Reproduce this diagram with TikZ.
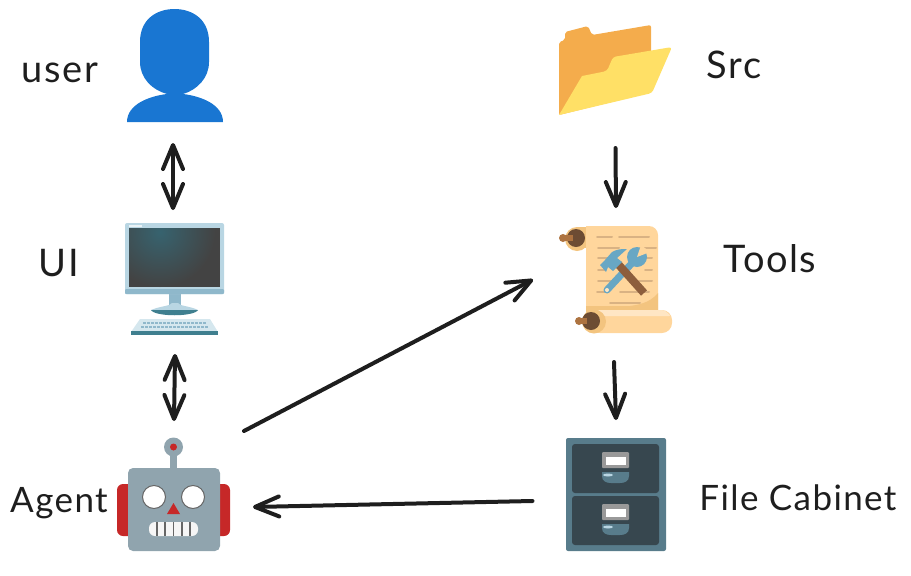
\documentclass[tikz,border=0pt]{standalone}
\usepackage{fontspec}
\setmainfont{Lato}
\usetikzlibrary{positioning,arrows.meta,calc}
\definecolor{inkdark}{HTML}{1E1E1E}
\definecolor{userblue}{HTML}{1976D2}
\definecolor{frameblue}{HTML}{B9D6E3}
\definecolor{framedark}{HTML}{8FB8CB}
\definecolor{screengray}{HTML}{434343}
\definecolor{screenteal}{HTML}{37636F}
\definecolor{edgeteal}{HTML}{3F7F8F}
\definecolor{botgray}{HTML}{90A4AE}
\definecolor{botred}{HTML}{C62828}
\definecolor{folderback}{HTML}{F4AC4C}
\definecolor{folderfront}{HTML}{FFE066}
\definecolor{paper}{HTML}{FFD69C}
\definecolor{paperdark}{HTML}{F3C47F}
\definecolor{paperlight}{HTML}{FFE6C4}
\definecolor{paperline}{HTML}{D9B283}
\definecolor{knobdark}{HTML}{6D4C33}
\definecolor{knoblight}{HTML}{AD7340}
\definecolor{toolblue}{HTML}{68A7C4}
\definecolor{toolbrown}{HTML}{8D5E3C}
\definecolor{cabinetblue}{HTML}{587C8B}
\definecolor{drawerdark}{HTML}{37474F}
\begin{document}
\begin{tikzpicture}[
      x=1pt,
      y=-1pt,
      >={Straight Barb[length=24pt,width=20pt,round]}
    ]

    \tikzstyle{icon} = [inner sep=0pt, outer sep=0pt, minimum width=100pt, minimum height=113pt]
    \tikzstyle{label} = [text=inkdark, font=\fontsize{38}{38}\selectfont\addfontfeatures{LetterSpace=4}]
    \tikzstyle{labelsmall} = [text=inkdark, font=\fontsize{35}{35}\selectfont\addfontfeatures{LetterSpace=4}]
    \tikzstyle{arrow} = [draw=inkdark, line width=4pt, line cap=round]

    \useasboundingbox (0,0) rectangle (911,576);

    \node [icon] (user) at (175,65.5) {};
    \node [icon] (ui) [below=101pt of user] {};
    \node [icon, minimum width=114pt] (agent) [below=102pt of ui] {};
    \node [icon, minimum width=113pt, minimum height=90pt] (src) at (615.5,70) {};
    \node [icon, minimum width=113pt, minimum height=109pt] (tools) [below=110pt of src] {};
    \node [icon] (cabinet) [below=104pt of tools] {};

    \node [label] (userlabel) at (60,73) {user};
    \node [label] (uilabel) at (59,263) {UI};
    \node [labelsmall] (agentlabel) at (59,503) {Agent};
    \node [label] (srclabel) at (734,65) {Src};
    \node [label] (toolslabel) at (770,259) {Tools};
    \node [labelsmall] (cabinetlabel) at (798,498) {File Cabinet};

    \fill [userblue] (127,122) .. controls (127,104) and (150,96) .. (167,94)
      .. controls (152,90) and (140,78) .. (140,62) -- (140,42)
      .. controls (140,18) and (158,9) .. (174.5,9)
      .. controls (191,9) and (209,18) .. (209,42) -- (209,62)
      .. controls (209,78) and (197,90) .. (183,94)
      .. controls (200,96) and (223,104) .. (223,122) -- cycle;

    \fill [framedark] (169,293) rectangle (181,305);
    \fill [frameblue] (172,303) -- (178,303) .. controls (179,306) and (190,306) .. (198,310) -- (151,310) .. controls (160,306) and (171,306) .. (172,303) -- cycle;
    \fill [edgeteal] (151,310) .. controls (155,317) and (194,317) .. (198,310) -- cycle;
    \fill [frameblue, rounded corners=2pt] (125,223) rectangle (224,294);
    \fill [framedark, rounded corners=1pt] (125,289) rectangle (224,294);
    \fill [white!70!frameblue] (129,225) rectangle (142,227);
    \begin{scope}
      \clip (129,228) rectangle (220,287);
      \fill [screengray] (129,228) rectangle (220,287);
      \shade [inner color=screenteal, outer color=screengray] (160,232) circle [radius=55];
    \end{scope}
    \fill [frameblue!60!white] (140,319) -- (210,319) -- (218,332) -- (131,332) -- cycle;
    \fill [edgeteal] (131,331) rectangle (218,335);
    \draw [framedark, line width=2pt, dash pattern=on 3pt off 1pt] (143,323) -- (206,323);
    \draw [framedark, line width=2pt, dash pattern=on 3pt off 1pt] (141,327) -- (208,327);

    \fill [botred, rounded corners=6pt] (117,484) rectangle (140,536);
    \fill [botred, rounded corners=6pt] (207,484) rectangle (230,536);
    \fill [botgray] (170,450) rectangle (177,470);
    \fill [botgray] (173.5,447) circle [radius=9.5];
    \fill [botred] (173.5,447) circle [radius=3.5];
    \fill [botgray, rounded corners=5pt] (128,468) rectangle (220,551);
    \draw [fill=white, draw=black!60, line width=1pt] (154,497) circle [radius=11.5];
    \draw [fill=white, draw=black!60, line width=1pt] (193,497) circle [radius=11.5];
    \fill [botred] (167,514) -- (180,514) -- (173.5,503) -- cycle;
    \fill [black!4, rounded corners=6pt] (149,522) rectangle (198,536);
    \draw [black!60, line width=1.2pt] (157,522) -- (157,536) (165,522) -- (165,536) (173.5,522) -- (173.5,536) (182,522) -- (182,536) (190,522) -- (190,536);

    \fill [folderback, rounded corners=2pt] (559,115) -- (559,42) -- (565,40) -- (565,32) -- (588,26) -- (592,35) -- (651,25) -- (651,92) -- cycle;
    \fill [folderfront] (559,115) -- (582,76) [rounded corners=3pt] -- (607,71) -- (613,57) -- (672,47) -- (652,93) [sharp corners] -- cycle;

    \fill [paperdark] (577,227) rectangle (590,248);
    \fill [paperdark] (577,239) circle [radius=12];
    \fill [paper] (586,226) [rounded corners=9pt] -- (658,226) [sharp corners] -- (658,312) -- (586,312) -- cycle;
    \fill [paperdark] (586,306) -- (630,306) .. controls (645,304) and (652,300) .. (658,293) -- (658,312) -- (586,316) -- cycle;
    \draw [paperline, line width=2pt, line cap=round] (597,237) -- (612,237) (619,237) -- (649,237)
      (598,248) -- (619,248) (640,248) -- (656,248)
      (598,258) -- (613,258) (645,258) -- (652,258)
      (598,270) -- (605,270) (645,270) -- (652,270)
      (598,281) -- (613,281) (633,281) -- (652,281)
      (597,292) -- (605,292) (620,292) -- (649,292)
      (610,303) -- (640,303);
    \fill [paper, rounded corners=10pt] (590,310) -- (672,310) -- (672,333) -- (590,333) -- cycle;
    \fill [paperlight, rounded corners=2pt] (597,310) -- (664,310) -- (671,316) -- (597,316) -- cycle;
    \fill [paperdark] (594,321.5) circle [radius=12];
    \fill [knobdark] (591,321) circle [radius=9];
    \fill [knoblight] (579,318) rectangle (587,324);
    \fill [knoblight] (579,321) circle [radius=4];
    \fill [knobdark] (576,238) circle [radius=9];
    \fill [knoblight] (563,235) rectangle (573,241);
    \fill [knoblight] (563,238) circle [radius=4];

    \draw [toolblue, line width=7pt, line cap=round] (607,290) -- (633,262);
    \fill [toolblue] (637,257) circle [radius=10];
    \fill [paper] (637,257) -- (641,245) -- (650,252) -- cycle;
    \fill [paper!60!white] (607,290) circle [radius=2];
    \draw [toolbrown, line width=8pt] (618,264) -- (644,293);
    \fill [toolblue] (600,265) -- (605,260) -- (612,252) .. controls (617,249) and (622,249) .. (627,249) -- (617,258) -- (622,262) -- (613,271) -- (608,267) -- (606,272) -- cycle;

    \fill [cabinetblue, rounded corners=2pt] (566,438) rectangle (666,551);
    \fill [drawerdark, rounded corners=3pt] (572,444) rectangle (659,493);
    \fill [drawerdark, rounded corners=3pt] (572,496) rectangle (659,545);
    \fill [black!40, rounded corners=1pt] (602,452) rectangle (629,468);
    \fill [white] (606,457) rectangle (626,465);
    \fill [black!40, rounded corners=1pt] (602,504) rectangle (629,520);
    \fill [white] (606,509) rectangle (626,517);
    \fill [cabinetblue] (602,472) -- (629,472) -- (629,476) .. controls (629,481) and (625,483) .. (620,483) -- (611,483) .. controls (606,483) and (602,481) .. (602,476) -- cycle;
    \fill [frameblue] (608,475) ellipse [x radius=5, y radius=1.5];
    \fill [cabinetblue] (602,524) -- (629,524) -- (629,528) .. controls (629,533) and (625,535) .. (620,535) -- (611,535) .. controls (606,535) and (602,533) .. (602,528) -- cycle;
    \fill [frameblue] (608,527) ellipse [x radius=5, y radius=1.5];

    \draw [arrow, <->] ($(user.south)+(-2,21)$) -- ($(ui.north)+(-2,-13)$);
    \draw [arrow, <->] ($(ui.south)+(0,18)$) -- ($(agent.north)+(-1,-17)$);
    \draw [arrow, ->] ($(agent.north east)+(12,-7)$) -- ($(tools.west)+(-26,0)$);
    \draw [arrow, ->] ($(src.south)+(0,33)$) -- ($(tools.north)+(0.5,-17)$);
    \draw [arrow, ->] ($(tools.south)+(-1.5,28)$) -- ($(cabinet.north)+(0.5,-18)$);
    \draw [arrow, ->] ($(cabinet.west)+(-33,6.5)$) -- ($(agent.east)+(21,12.5)$);

\end{tikzpicture}
\end{document}
